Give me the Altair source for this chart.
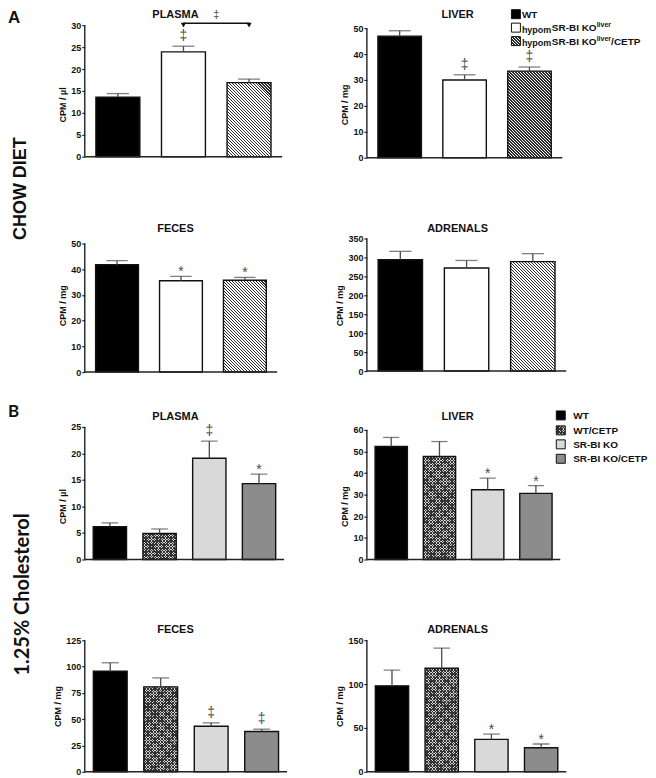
import math
import altair as alt
import pandas as pd

# ---------------- data ----------------
A_groups = ["WT", "hypomSR-BI KOliver", "hypomSR-BI KOliver/CETP"]
B_groups = ["WT", "WT/CETP", "SR-BI KO", "SR-BI KO/CETP"]

A_plasma_mean = [13.6, 23.9, 16.9]
A_plasma_err = [0.8, 1.3, 0.8]
A_plasma_sig = ["", "‡", ""]

A_liver_mean = [46.9, 30.0, 33.4]
A_liver_err = [2.1, 2.0, 1.6]
A_liver_sig = ["", "‡", "‡"]

A_feces_mean = [41.7, 35.5, 35.7]
A_feces_err = [1.6, 1.7, 1.1]
A_feces_sig = ["", "*", "*"]

A_adrenals_mean = [294, 272, 289]
A_adrenals_err = [22, 20, 21]
A_adrenals_sig = ["", "", ""]

B_plasma_mean = [6.2, 4.9, 19.1, 14.3]
B_plasma_err = [0.7, 0.85, 3.2, 1.8]
B_plasma_sig = ["", "", "‡", "*"]

B_liver_mean = [52.3, 47.7, 32.3, 30.6]
B_liver_err = [4.2, 6.9, 5.4, 3.6]
B_liver_sig = ["", "", "*", "*"]

B_feces_mean = [95.5, 80.7, 43.3, 38.3]
B_feces_err = [8.1, 8.5, 3.2, 2.2]
B_feces_sig = ["", "", "‡", "‡"]

B_adrenals_mean = [98, 118, 37, 27.5]
B_adrenals_err = [18, 23, 6, 4.2]
B_adrenals_sig = ["", "", "*", "*"]

A_plasma_ticks = [0, 5, 10, 15, 20, 25, 30]
A_liver_ticks = [0, 10, 20, 30, 40, 50]
A_feces_ticks = [0, 10, 20, 30, 40, 50]
A_adrenals_ticks = [0, 50, 100, 150, 200, 250, 300, 350]
B_plasma_ticks = [0, 5, 10, 15, 20, 25]
B_liver_ticks = [0, 10, 20, 30, 40, 50, 60]
B_feces_ticks = [0, 25, 50, 75, 100, 125]
B_adrenals_ticks = [0, 50, 100, 150]

panel_titles = ["PLASMA", "LIVER", "FECES", "ADRENALS"]
y_titles = ["CPM / µl", "CPM / mg"]
section_letters = ["A", "B"]
section_titles = ["CHOW DIET", "1.25% Cholesterol"]
A_legend_parts = ["WT", "hypom", "SR-BI KO", "liver", "/CETP"]
A_bracket = [A_groups[1], A_groups[2], 30.45, "‡"]

# ---------------- style ----------------
ARIAL = "Liberation Sans"
LATO = "Lato"
CLEAR = "rgba(255,255,255,0)"
A_fills = ["#000000", "#ffffff", "#ffffff"]
B_fills = ["#000000", "#d2d2d2", "#d9d9d9", "#8c8c8c"]
A_patterns = {A_groups[2]: "hatch"}
B_patterns = {B_groups[1]: "cross"}


def grad(w, h, period, color, duty, direction):
    L = w + h
    den = w * w + h * h
    if direction == "back":
        x1, y1 = 0.0, 1.0
        x2, y2 = w * L / den, 1.0 - h * L / den
    else:
        x1, y1 = 0.0, 0.0
        x2, y2 = w * L / den, h * L / den
    n = L / period
    stops = []
    for i in range(int(math.ceil(n))):
        o0 = round(min(i / n, 1.0), 5)
        o1 = round(min((i + duty) / n, 1.0), 5)
        o2 = round(min((i + 1) / n, 1.0), 5)
        stops += [{"offset": o0, "color": color}, {"offset": o1, "color": color},
                  {"offset": o1, "color": CLEAR}, {"offset": o2, "color": CLEAR}]
    return {"gradient": "linear", "x1": round(x1, 5), "y1": round(y1, 5),
            "x2": round(x2, 5), "y2": round(y2, 5), "stops": stops}


def pattern_grads(pat, w, h):
    if pat == "hatch":
        return [grad(w, h, 3.0, "#2b2b2b", 0.48, "back")]
    return [grad(w, h, 2.8, "#333333", 0.45, "back"),
            grad(w, h, 2.8, "#333333", 0.45, "fwd")]


def txt(s, x, y, size, font=ARIAL, align="left", baseline="alphabetic", angle=0,
        color="#111111", dy=0):
    kw = dict(font=font, fontSize=size, fontWeight="bold", align=align,
              baseline=baseline, color=color)
    if angle:
        kw["angle"] = angle
    if dy:
        kw["dy"] = dy
    return alt.Chart(pd.DataFrame({"t": [s]})).mark_text(**kw).encode(
        x=alt.value(x), y=alt.value(y), text="t:N")


def swatch(x0, y0, size, fill, pat=None):
    d = pd.DataFrame({"k": [0]})
    enc = dict(x=alt.value(x0), x2=alt.value(x0 + size), y=alt.value(y0), y2=alt.value(y0 + size))
    out = [alt.Chart(d).mark_rect(fill=fill).encode(**enc)]
    if pat:
        for g in pattern_grads(pat, size, size):
            out.append(alt.Chart(d).mark_rect(fill=g).encode(**enc))
    out.append(alt.Chart(d).mark_rect(fill="transparent", stroke="#111111", strokeWidth=1).encode(**enc))
    return out


def panel(groups, means, errs, sigs, ticks, title, ytitle, fills, patterns,
          W, H, a, b, pi=0.33, po=0.17, bracket=None, extras=()):
    n = len(groups)
    T = ticks[-1]
    k = (b - a) / T
    dom = [-(H - b) / k, T + a / k]
    df = pd.DataFrame({"group": groups, "mean": means,
                       "hi": [round(m + e, 3) for m, e in zip(means, errs)],
                       "sig": sigs, "zero": [0] * n})
    ysc = alt.Scale(domain=dom, nice=False, zero=False)
    yax = alt.Axis(title=ytitle, values=ticks, domain=False, grid=False, tickSize=3,
                   tickWidth=1.2, tickColor="#222222", labelFont=ARIAL, labelFontSize=9,
                   labelFontWeight="bold", labelColor="#111111", labelPadding=1,
                   titleFont=ARIAL, titleFontSize=9, titleFontWeight="bold",
                   titleColor="#111111", titlePadding=3)

    def Y(f):
        return alt.Y(f + ":Q", scale=ysc, axis=yax)

    xsc = alt.Scale(domain=groups, paddingInner=pi, paddingOuter=po)
    X = alt.X("group:N", scale=xsc, axis=None)
    step = W / (n - pi + 2 * po)
    bw = step * (1 - pi)
    base = alt.Chart(df)
    layers = [base.mark_bar().encode(
        x=X, y=Y("mean"), y2=alt.Y2("zero:Q"),
        fill=alt.Fill("group:N", scale=alt.Scale(domain=groups, range=fills), legend=None))]
    for g, pat in patterns.items():
        i = groups.index(g)
        for gr in pattern_grads(pat, bw, means[i] * k):
            layers.append(base.transform_filter(alt.datum.group == g).mark_bar(fill=gr).encode(
                x=X, y=Y("mean"), y2=alt.Y2("zero:Q")))
    layers.append(base.mark_bar(fill="transparent", stroke="#111111", strokeWidth=1.4).encode(
        x=X, y=Y("mean"), y2=alt.Y2("zero:Q")))
    layers.append(base.mark_rule(color="#4a4a4a", strokeWidth=1.3).encode(
        x=X, y=Y("mean"), y2=alt.Y2("hi:Q")))
    layers.append(base.mark_tick(orient="horizontal", color="#4a4a4a", thickness=1.3,
                                 size=bw * 0.5).encode(x=X, y=Y("hi")))
    layers.append(base.transform_filter(alt.datum.sig == "‡").mark_text(
        font=ARIAL, fontSize=14, color="#4a4a4a", baseline="middle", dy=-10).encode(
        x=X, y=Y("hi"), text="sig:N"))
    layers.append(base.transform_filter(alt.datum.sig == "*").mark_text(
        font=ARIAL, fontSize=14, color="#4a4a4a", baseline="middle", dy=-4).encode(
        x=X, y=Y("hi"), text="sig:N"))
    axdf = pd.DataFrame({"y0": [0], "y1": [T]})
    layers.append(alt.Chart(axdf).mark_rule(color="#222222", strokeWidth=1.4).encode(
        x=alt.value(0), y=Y("y0"), y2=alt.Y2("y1:Q")))
    layers.append(alt.Chart(axdf).mark_rule(color="#222222", strokeWidth=1.4).encode(
        x=alt.value(0), x2=alt.value(W), y=Y("y0")))
    if bracket:
        g1, g2, yv, lab = bracket
        bd = pd.DataFrame({"g1": [g1], "g2": [g2], "y": [yv], "lab": [lab]})
        pd2 = pd.DataFrame({"group": [g1, g2], "y": [yv - 0.45, yv - 0.45]})
        layers.append(alt.Chart(bd).mark_rule(color="#111111", strokeWidth=1.6).encode(
            x=alt.X("g1:N", scale=xsc, axis=None), x2="g2:N", y=Y("y")))
        layers.append(alt.Chart(pd2).mark_point(shape="triangle-down", filled=True, color="#111111",
                                                size=28, opacity=1).encode(x=X, y=Y("y")))
        layers.append(alt.Chart(bd).mark_text(font=ARIAL, fontSize=11, color="#4a4a4a",
                                              baseline="middle", dx=step / 2, dy=-8).encode(
            x=alt.X("g1:N", scale=xsc, axis=None), y=Y("y"), text="lab:N"))
    layers.append(txt(title, 91, max(a - 13, -7), 11, align="center"))
    layers.extend(extras)
    return alt.layer(*layers).properties(width=W, height=H)


# ---------------- legends & side labels ----------------
legA = []
ys = [-15.5, -2, 11.5]
legA += swatch(145, ys[0], 9, A_fills[0])
legA += swatch(145, ys[1], 9, A_fills[1])
legA += swatch(145, ys[2], 9, A_fills[2], "hatch")
bl = [y + 4.5 + 3.6 for y in ys]
legA.append(txt(A_legend_parts[0], 155.5, bl[0], 10))
for r in (1, 2):
    legA.append(txt(A_legend_parts[1], 155.5, bl[r] + 1.5, 9))
    legA.append(txt(A_legend_parts[2], 185.5, bl[r], 10))
    legA.append(txt(A_legend_parts[3], 230.5, bl[r] - 4, 7))
legA.append(txt(A_legend_parts[4], 245, bl[2], 10))

legB = []
ysB = [-16, -1, 13, 27.5]
B_pats = [None, "cross", None, None]
for i, g in enumerate(B_groups):
    legB += swatch(190, ysB[i], 9, B_fills[i], B_pats[i])
    legB.append(txt(g, 207, ysB[i] + 4.5 + 3.6, 10))

sideA = [txt(section_letters[0], -77, -15, 17, baseline="top"),
         txt(section_titles[0], -64, 164, 18, align="center", baseline="middle", angle=270)]
sideB = [txt(section_letters[1], -77, -23, 17, font=LATO, baseline="top"),
         txt(section_titles[1], -62, 168, 20, font=LATO, align="center", baseline="middle", angle=270)]

# ---------------- panels ----------------
p1 = panel(A_groups, A_plasma_mean, A_plasma_err, A_plasma_sig, A_plasma_ticks, panel_titles[0],
           y_titles[0], A_fills, A_patterns, W=198, H=159, a=0, b=132, bracket=A_bracket, extras=sideA)
p2 = panel(A_groups, A_liver_mean, A_liver_err, A_liver_sig, A_liver_ticks, panel_titles[1],
           y_titles[1], A_fills, A_patterns, W=196, H=159, a=3, b=133, extras=legA)
p3 = panel(A_groups, A_feces_mean, A_feces_err, A_feces_sig, A_feces_ticks, panel_titles[2],
           y_titles[1], A_fills, A_patterns, W=193, H=134, a=5, b=134)
p4 = panel(A_groups, A_adrenals_mean, A_adrenals_err, A_adrenals_sig, A_adrenals_ticks, panel_titles[3],
           y_titles[1], A_fills, A_patterns, W=200, H=134, a=0, b=133)
p5 = panel(B_groups, B_plasma_mean, B_plasma_err, B_plasma_sig, B_plasma_ticks, panel_titles[0],
           y_titles[0], B_fills, B_patterns, W=200, H=159, a=0, b=133, extras=sideB)
p6 = panel(B_groups, B_liver_mean, B_liver_err, B_liver_sig, B_liver_ticks, panel_titles[1],
           y_titles[1], B_fills, B_patterns, W=194, H=159, a=3, b=133, extras=legB)
p7 = panel(B_groups, B_feces_mean, B_feces_err, B_feces_sig, B_feces_ticks, panel_titles[2],
           y_titles[1], B_fills, B_patterns, W=203, H=132, a=0, b=132)
p8 = panel(B_groups, B_adrenals_mean, B_adrenals_err, B_adrenals_sig, B_adrenals_ticks, panel_titles[3],
           y_titles[1], B_fills, B_patterns, W=200, H=132, a=0, b=132)

chart = alt.concat(p1, p2, p3, p4, p5, p6, p7, p8, columns=2,
                   spacing={"row": 55, "column": 80}, bounds="flush", align="each"
                   ).resolve_scale(fill="independent").properties(padding=0).configure_view(strokeWidth=0)

chart.save("out.html", embed_options={"renderer": "svg", "actions": False})
